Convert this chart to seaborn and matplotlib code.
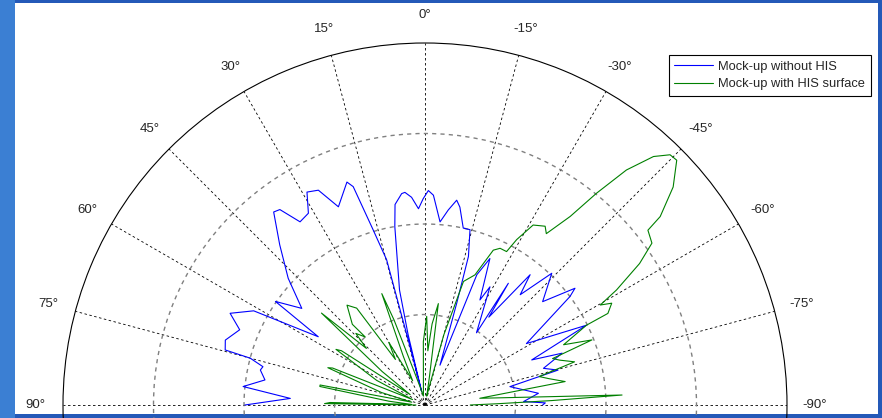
import numpy as np
import pandas as pd
import matplotlib
matplotlib.use("Agg")
import matplotlib.pyplot as plt
from matplotlib.patches import Rectangle
import seaborn as sns

# angles (deg, 0 = broadside, positive to the left) and radius
blue_deg = [90, 87.2, 84.2, 81.1, 78, 76.7, 75, 74.6, 72, 67.9, 64.8, 61.2, 57.4, 55.3, 51.9,
            47.2, 42.2, 38.1, 36.6, 34.3, 31.3, 29, 26.4, 23.6, 19.3, 18.2, 16.5, 14.8, 14.4, 14.0,
            13.5, 12.5, 9.6, 8.5, 6.3, 5.4, 3.7, 1.9, 0.5, -0.9, -2.3, -4.7, -6.8, -8.8, -10,
            -12.2, -14.4, -16.3, -17.3, -20.6, -21.7, -23.9, -27.6, -28.8, -35.5, -34.4, -36,
            -38.9, -40.8, -43.9, -48.7, -52.1, -53.2, -58.8, -63.7, -67.1, -69.3, -72.8, -75.3,
            -77.8, -84.1, -88, -89, -90]
blue_r = [19.9, 14.9, 20.2, 17.9, 18.6, 18.4, 20, 22.9, 23.2, 22.1, 23.8, 21.6, 14, 20.1, 17.3,
          20.6, 23.9, 27.1, 26.9, 24.5, 24.8, 26.9, 26.5, 23.9, 26.1, 25.4, 20.2, 16.6, 6.7, 1.5,
          8, 13, 20, 22.4, 23.5, 23.6, 23, 21.7, 22.8, 23.7, 23.2, 20.3, 21.7, 22.9, 22.2,
          20, 20, 17.1, 11.8, 4.7, 15.5, 17.7, 13.1, 14.9, 9.8, 16.3, 12,
          18.5, 16.1, 20.2, 17.3, 21, 20, 13.1, 19.9, 12.8, 16.2, 13.7, 15.2,
          9.6, 12.6, 10.9, 13.3, 13]

green_deg = [90, 89.2, 88.5, 87.5, 84, 80, 79.2, 78, 74, 69, 68.2, 66.5, 63, 58, 57, 55, 52,
             48.4, 46, 44, 41.3, 42, 38, 35.2, 33, 30, 27, 24, 21.2, 20, 18, 15, 10, 5, 1.5,
             -1.1, -3, -5, -7.5, -9, -11, -13, -15, -17.3, -21, -23.8, -25.6, -28, -29, -31,
             -33.9, -35.3, -37.6, -39, -40.6, -42.6, -44.4, -45.8, -48.7, -51.3, -51.9, -54.5,
             -56.6, -59, -60.3, -61.4, -63.4, -63.7, -66.5, -68.7, -70, -71.6, -73.9, -76, -78,
             -80.5, -82, -83, -87.1, -88, -89, -90]
green_r = [1, 11.1, 10.5, 1.5, 4, 11.8, 11.8, 1.5, 5, 11.5, 11, 1.5, 6, 11.6, 11, 2, 6,
           15.3, 9, 11, 10, 12, 14, 13.1, 6, 8, 3, 5.9, 13.2, 10, 4, 2, 1, 2, 7,
           9.8, 6, 9, 11.3, 3, 1, 2, 8, 14.3, 15.4, 18.7, 19.2, 19.2, 20.9, 23.2,
           23.8, 23.2, 26.3, 30.1, 34.2, 37.3, 38.7, 38.8, 36.5, 33.3, 31.3, 30.8,
           28.4, 24.7, 22.3, 23.5, 22.6, 19.9, 16.7, 19.8, 15, 15.7, 17.2, 13, 14,
           15.7, 8, 6.1, 21.8, 14, 8, 5]

tick_deg = list(range(-90, 91, 15))
tick_lab = [f"{a}\u00b0" for a in tick_deg]

sns.set_style("white")
plt.rcParams['font.family'] = ['Liberation Sans', 'DejaVu Sans']

W, H = 882, 418
fig = plt.figure(figsize=(W / 100, H / 100), dpi=100, facecolor='#2459b8')
fig.add_artist(Rectangle((0, 0), 15 / W, 1, transform=fig.transFigure,
                         facecolor='#3b7fd3', edgecolor='none', zorder=-2))
fig.add_artist(Rectangle((15 / W, 4 / H), 863 / W, 411 / H, transform=fig.transFigure,
                         facecolor='white', edgecolor='none', zorder=-1))

# polar centre sits near the bottom edge, lower half is cut off
cx, cy, R = 425, 418 - 405, 362
ax = fig.add_axes([(cx - R) / W, (cy - R) / H, 2 * R / W, 2 * R / H], projection='polar')
ax.set_facecolor('none')
ax.set_theta_zero_location('N')
ax.set_theta_direction(1)

blue = pd.DataFrame({'theta': np.deg2rad(blue_deg), 'r': blue_r})
green = pd.DataFrame({'theta': np.deg2rad(green_deg), 'r': green_r})
sns.lineplot(data=blue, x='theta', y='r', sort=False, estimator=None, ax=ax,
             color='#0000ff', lw=0.8, label='Mock-up without HIS')
sns.lineplot(data=green, x='theta', y='r', sort=False, estimator=None, ax=ax,
             color='#008000', lw=0.8, label='Mock-up with HIS surface')

# seaborn autoscales theta to the data, put the full circle back
ax.set_thetalim(-np.pi, np.pi)
ax.set_rlim(0, 40)
ax.set_rgrids([10, 20, 30], labels=[])
ax.set_thetagrids(tick_deg, tick_lab, fontsize=9.5)
ax.tick_params(axis='x', pad=9.5)
ax.grid(axis='x', color='black', ls=(0, (3, 3)), lw=0.6)
ax.grid(axis='y', color='#808080', ls=(0, (3, 3)), lw=1.0)
ax.spines['polar'].set_color('black')
ax.spines['polar'].set_linewidth(0.8)
ax.set_xlabel('')
ax.set_ylabel('')

leg = ax.legend(loc='upper right', bbox_to_anchor=(871 / W, 1 - 55 / H),
                bbox_transform=fig.transFigure, fontsize=9.3, frameon=True, fancybox=False,
                edgecolor='black', framealpha=1, handlelength=3, handletextpad=0.4,
                borderpad=0.45, labelspacing=0.4, borderaxespad=0)
leg.get_frame().set_linewidth(0.8)

fig.savefig('out.png', dpi=100, facecolor=fig.get_facecolor())
